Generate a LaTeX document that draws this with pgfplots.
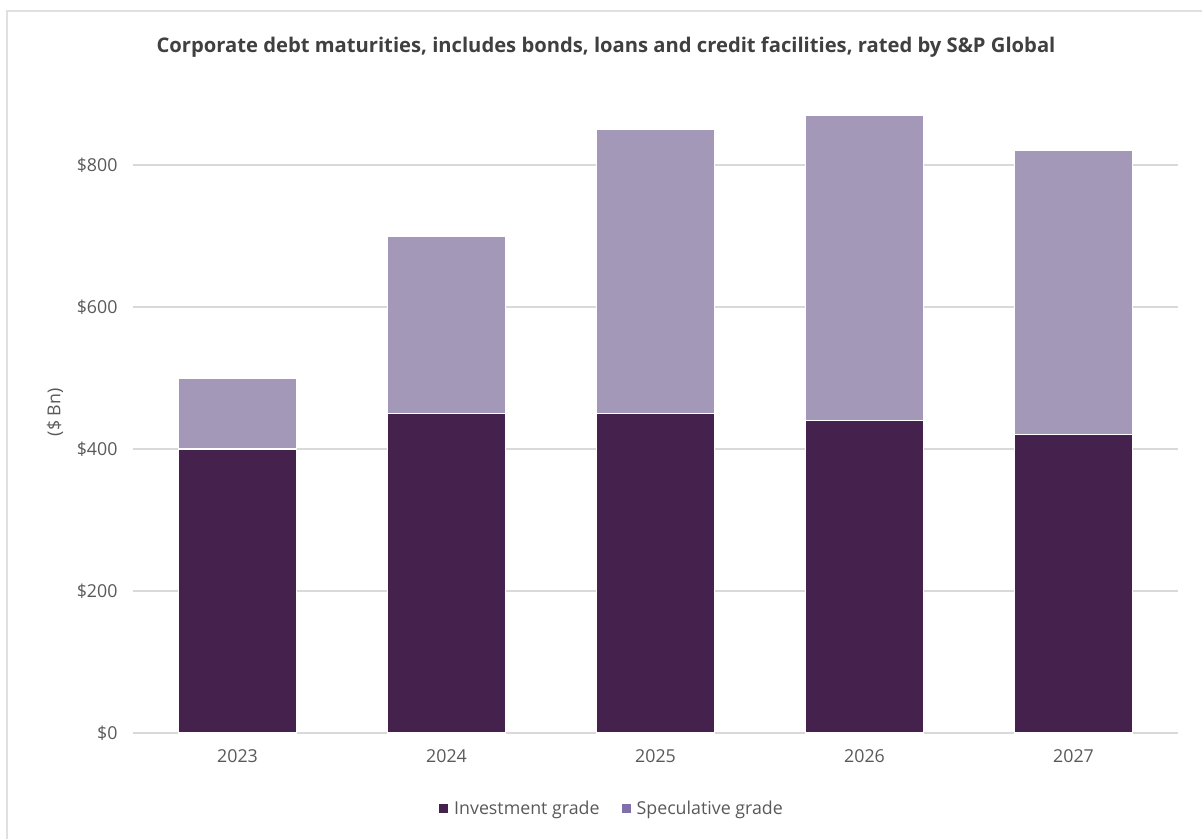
\documentclass[border=0pt]{standalone}
\usepackage{pgfplots}
\pgfplotsset{compat=1.18}
\usepackage{fontspec}
\setmainfont{Open Sans}
\definecolor{ig}{HTML}{45214D}
\definecolor{spec}{HTML}{A398B8}
\definecolor{speclegend}{HTML}{7F6FAA}
\definecolor{gridc}{HTML}{D9D9D9}
\definecolor{ticktxt}{HTML}{595959}
\definecolor{titletxt}{HTML}{404040}
\definecolor{framec}{HTML}{E0E0E0}
\begin{document}
\begin{tikzpicture}[x=1pt,y=1pt]
\path[use as bounding box] (0,0) rectangle (1202,838);
\draw[framec, line width=1.5pt] (7,-5) -- (7,827) -- (1210,827);
\node[font=\bfseries\fontsize{20.2}{23}\selectfont, text=titletxt] at (606,791) {Corporate debt maturities, includes bonds, loans and credit facilities, rated by S\&P Global};
\begin{axis}[
  at={(133pt,105pt)}, anchor=south west,
  width=1045pt, height=639pt, scale only axis,
  ybar stacked, bar width=118pt,
  xmin=-0.5, xmax=4.5, ymin=0, ymax=900,
  xtick={0,1,2,3,4}, xticklabels={2023,2024,2025,2026,2027},
  ytick={0,200,400,600,800}, yticklabels={\$0,\$200,\$400,\$600,\$800},
  ymajorgrids, grid style={gridc, line width=1.3pt},
  axis line style={draw=none},
  major tick length=0pt,
  tick label style={font=\fontsize{17.8}{20}\selectfont, text=ticktxt},
  yticklabel style={xshift=-12pt},
  xticklabel style={yshift=-13pt},
  ylabel={(\$ Bn)},
  ylabel style={at={(axis description cs:0,0.502)}, yshift=78pt, anchor=center, font=\fontsize{17.8}{20}\selectfont, text=ticktxt},
  legend columns=2,
  legend style={at={(479pt,-75pt)}, anchor=center, draw=none, fill=none,
    font=\fontsize{17.8}{20}\selectfont, text=ticktxt,
    /tikz/every even column/.append style={column sep=20pt}},
  legend cell align=left,
]
\addplot[fill=ig, draw=white, line width=1.2pt,
  legend image code/.code={\path[draw=none, fill=ig] (0pt,-4.5pt) rectangle (9pt,4.5pt); \path[draw=none, fill=none] (0pt,0pt) -- (13pt,0pt);}]
  coordinates {(0,400) (1,450) (2,450) (3,440) (4,420)};
\addlegendentry{Investment grade}
\addplot[fill=spec, draw=white, line width=1.2pt,
  legend image code/.code={\path[draw=none, fill=speclegend] (0pt,-4.5pt) rectangle (9pt,4.5pt); \path[draw=none, fill=none] (0pt,0pt) -- (13pt,0pt);}]
  coordinates {(0,100) (1,250) (2,400) (3,430) (4,400)};
\addlegendentry{Speculative grade}
\end{axis}
\end{tikzpicture}
\end{document}
